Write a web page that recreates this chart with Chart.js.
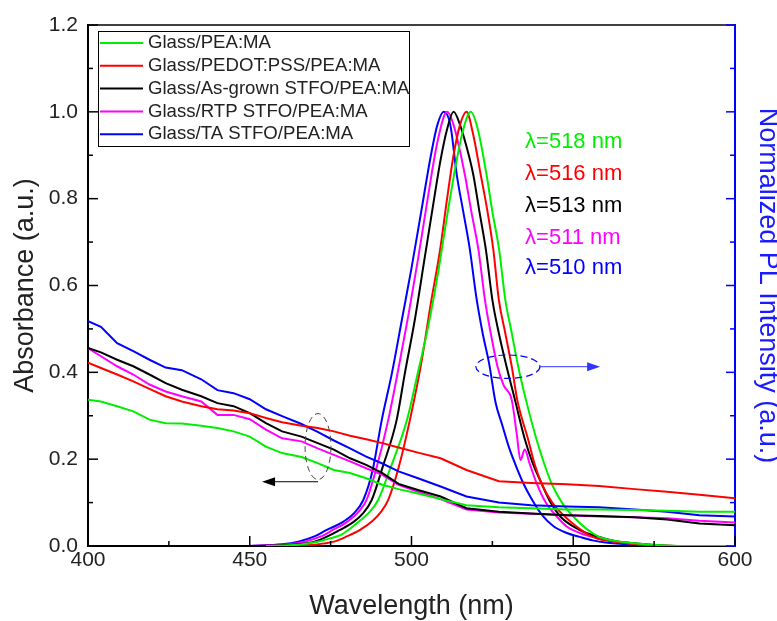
<!DOCTYPE html>
<html><head><meta charset="utf-8">
<script src="https://cdn.jsdelivr.net/npm/chart.js@4.4.0/dist/chart.umd.min.js"></script>
<style>html,body{margin:0;padding:0;background:#fff;}canvas{display:block;}</style>
</head><body>
<canvas id="c" width="777" height="621"></canvas>
<script>
// ---------------- data ----------------
const seriesLabels = ['Glass/PEA:MA','Glass/PEDOT:PSS/PEA:MA','Glass/As-grown STFO/PEA:MA','Glass/RTP STFO/PEA:MA','Glass/TA STFO/PEA:MA'];
const seriesColors = ['#00ee00','#ff0000','#000000','#ff00ff','#0000ff'];
const peakLabels = ['λ=518 nm','λ=516 nm','λ=513 nm','λ=511 nm','λ=510 nm'];

const xMajorTicks = [400,450,500,550,600];
const xMinorTicks = [425,475,525,575];
const yMajorTicks = [0,0.2,0.4,0.6,0.8,1.0,1.2];
const yMinorTicks = [0.1,0.3,0.5,0.7,0.9,1.1];

// absorbance (left axis)
const absWavelength = [400,404,409,414,419,424,429,435,440,445,450,455,460,466,471,476,481,486,491,496,502,509,517,527,537,548,558,569,579,589,600];
const absGreen   = [0.337,0.333,0.322,0.310,0.291,0.283,0.282,0.277,0.272,0.264,0.252,0.229,0.214,0.205,0.191,0.175,0.168,0.156,0.141,0.131,0.121,0.108,0.094,0.089,0.087,0.084,0.084,0.083,0.081,0.079,0.079];
const absRed     = [0.422,0.410,0.395,0.379,0.362,0.345,0.333,0.322,0.315,0.312,0.306,0.295,0.285,0.277,0.272,0.264,0.254,0.246,0.237,0.227,0.215,0.202,0.175,0.149,0.145,0.142,0.138,0.131,0.125,0.118,0.110];
const absBlack   = [0.456,0.446,0.429,0.414,0.395,0.375,0.360,0.345,0.329,0.322,0.306,0.283,0.264,0.252,0.237,0.222,0.202,0.187,0.168,0.143,0.129,0.114,0.087,0.079,0.075,0.071,0.069,0.066,0.061,0.052,0.048];
const absMagenta = [0.456,0.437,0.414,0.395,0.372,0.356,0.345,0.333,0.302,0.302,0.292,0.268,0.248,0.241,0.225,0.210,0.195,0.179,0.164,0.141,0.125,0.108,0.084,0.077,0.074,0.071,0.068,0.066,0.064,0.058,0.054];
const absBlue    = [0.518,0.505,0.467,0.449,0.429,0.411,0.405,0.384,0.359,0.352,0.338,0.315,0.299,0.281,0.263,0.243,0.225,0.206,0.190,0.172,0.156,0.137,0.114,0.100,0.094,0.091,0.089,0.084,0.079,0.071,0.068];

// normalized PL (right axis)
const plGreenWl  = [455,465,471,475,478,480.5,484,487,489.7,493,498.6,502,505,508,511,514,516,518.3,520.5,523.2,525,527.1,529,531,533,535.4,538.7,541,543.3,546.5,550,554,558,562,568,577,590,600];
const plGreenVal = [0,0.003,0.01,0.018,0.025,0.037,0.058,0.078,0.106,0.17,0.29,0.40,0.50,0.62,0.76,0.89,0.96,1.0,0.96,0.855,0.77,0.682,0.567,0.49,0.413,0.336,0.244,0.19,0.144,0.10,0.068,0.04,0.021,0.013,0.007,0.002,0,0];
const plRedWl  = [460,470,476,480,484.1,488,490.5,492.8,496,499.5,503,506,508.8,511,513,515,517,519,521.4,523.5,525.3,527,529,531,532.7,536.1,538,540.2,543.5,547.4,551,556,560,566,575,590,600];
const plRedVal = [0,0.003,0.01,0.022,0.037,0.058,0.078,0.106,0.18,0.29,0.42,0.56,0.68,0.80,0.90,0.97,1.0,0.95,0.855,0.77,0.682,0.567,0.49,0.413,0.336,0.244,0.19,0.144,0.10,0.068,0.045,0.021,0.013,0.007,0.002,0,0];
const plBlackWl  = [450,465,470,474,477.9,482,485,487.7,491,495.4,498,501,504,507,509,511,513,515,517,519.1,521,523,525,527,529.4,532,535.1,537.5,540.2,543,546,550,554,558,562,568,576,590,600];
const plBlackVal = [0,0.004,0.01,0.022,0.037,0.055,0.075,0.106,0.18,0.29,0.40,0.52,0.66,0.80,0.89,0.96,1.0,0.97,0.92,0.855,0.77,0.682,0.567,0.49,0.413,0.336,0.244,0.19,0.144,0.10,0.068,0.045,0.03,0.021,0.013,0.007,0.002,0,0];
const plMagentaWl  = [450,462,467,472,475.7,480,484,486.1,489,492.8,496,499,502,505,508,511,513,516.5,518.5,520.7,522.7,524.5,526.6,528.5,531,532.5,533.7,535,536.5,538.7,541.5,544.9,548,552,556,560,566,575,590,600];
const plMagentaVal = [0,0.004,0.01,0.022,0.037,0.055,0.082,0.106,0.175,0.29,0.41,0.53,0.66,0.80,0.93,1.0,0.97,0.855,0.77,0.682,0.567,0.49,0.413,0.37,0.336,0.26,0.198,0.222,0.19,0.144,0.10,0.068,0.045,0.03,0.021,0.013,0.007,0.002,0,0];
const plBlueWl  = [450,460,465,470,473.8,478,482,485.1,488,490.8,494,497,500,503,506,508,510,512,514,516,518,520,522,524,526,528,530,532,534.6,537,540.7,544,548,552,556,560,570,580,600];
const plBlueVal = [0,0.004,0.01,0.022,0.037,0.052,0.074,0.106,0.175,0.29,0.40,0.52,0.64,0.77,0.90,0.97,1.0,0.97,0.855,0.77,0.685,0.575,0.49,0.42,0.33,0.28,0.23,0.19,0.144,0.11,0.068,0.045,0.03,0.021,0.013,0.008,0.003,0,0];

// annotation anchors in data units
const absMarker = {x:471.1, y:0.229, rx:4.0, ry:0.076, arrowY:0.148, arrowTo:453.8};
const plMarker  = {x:529.8, y:0.413, rx:9.9, ry:0.027, arrowTo:558.3};
const peakLabelX = 535.1;
const peakLabelY = [0.930,0.857,0.783,0.710,0.641];

// ---------------- chart ----------------
const FONT = 'Liberation Sans, Arial, Helvetica, sans-serif';
Chart.defaults.font.family = FONT;
const pts = (xs, ys) => xs.map((x, i) => ({x, y: ys[i]}));
const absSets = [absGreen, absRed, absBlack, absMagenta, absBlue];
const plSets = [[plGreenWl,plGreenVal],[plRedWl,plRedVal],[plBlackWl,plBlackVal],[plMagentaWl,plMagentaVal],[plBlueWl,plBlueVal]];

const datasets = [];
absSets.forEach((vals, i) => datasets.push({
  label: seriesLabels[i], data: pts(absWavelength, vals), yAxisID: 'y',
  borderColor: seriesColors[i], borderWidth: 2, pointRadius: 0, tension: 0, fill: false
}));
plSets.forEach((s, i) => datasets.push({
  label: seriesLabels[i] + ' PL', data: pts(s[0], s[1]), yAxisID: 'y2',
  borderColor: seriesColors[i], borderWidth: 2, pointRadius: 0, cubicInterpolationMode: 'monotone', fill: false
}));

function arrow(ctx, x1, y1, x2, y2, color) {
  ctx.save();
  ctx.strokeStyle = color; ctx.fillStyle = color; ctx.lineWidth = 1;
  const dir = Math.sign(x2 - x1);
  ctx.beginPath(); ctx.moveTo(x1, y1); ctx.lineTo(x2 - dir * 10, y2); ctx.stroke();
  ctx.beginPath(); ctx.moveTo(x2, y2); ctx.lineTo(x2 - dir * 13, y2 - 4.5); ctx.lineTo(x2 - dir * 13, y2 + 4.5); ctx.closePath(); ctx.fill();
  ctx.restore();
}

const decor = {
  id: 'decor',
  afterDraw(chart) {
    const {ctx, chartArea: a, scales} = chart;
    const sx = scales.x, sy = scales.y, sy2 = scales.y2;
    ctx.save();
    // top frame line
    ctx.strokeStyle = '#000'; ctx.lineWidth = 1.5;
    ctx.beginPath(); ctx.moveTo(a.left, a.top); ctx.lineTo(a.right, a.top); ctx.stroke();
    // inward ticks
    const tick = (x1, y1, x2, y2, c) => { ctx.strokeStyle = c; ctx.lineWidth = 1.5; ctx.beginPath(); ctx.moveTo(x1, y1); ctx.lineTo(x2, y2); ctx.stroke(); };
    xMajorTicks.forEach(v => { const p = sx.getPixelForValue(v); tick(p, a.bottom, p, a.bottom - 10, '#000'); });
    xMinorTicks.forEach(v => { const p = sx.getPixelForValue(v); tick(p, a.bottom, p, a.bottom - 5, '#000'); });
    yMajorTicks.forEach(v => { const p = sy.getPixelForValue(v); tick(a.left, p, a.left + 10, p, '#000'); tick(a.right, sy2.getPixelForValue(v), a.right - 9, sy2.getPixelForValue(v), '#0000ff'); });
    yMinorTicks.forEach(v => { const p = sy.getPixelForValue(v); tick(a.left, p, a.left + 5, p, '#000'); tick(a.right, sy2.getPixelForValue(v), a.right - 5, sy2.getPixelForValue(v), '#0000ff'); });

    // legend
    const lx = a.left + 10, ly = a.top + 6, lw = 311, lh = 115, rowH = 22.8;
    ctx.fillStyle = '#fff'; ctx.fillRect(lx, ly, lw, lh);
    ctx.save();
    ctx.beginPath(); ctx.rect(lx, ly, lw, lh); ctx.clip();
    ctx.font = '18.6px ' + FONT; ctx.textBaseline = 'middle'; ctx.textAlign = 'left';
    seriesLabels.forEach((t, i) => {
      const yy = ly + 12 + i * rowH;
      ctx.strokeStyle = seriesColors[i]; ctx.lineWidth = 2;
      ctx.beginPath(); ctx.moveTo(lx + 2, yy); ctx.lineTo(lx + 45, yy); ctx.stroke();
      ctx.fillStyle = '#222'; ctx.fillText(t, lx + 50, yy);
    });
    ctx.restore();
    ctx.strokeStyle = '#000'; ctx.lineWidth = 1; ctx.strokeRect(lx + 0.5, ly + 0.5, lw, lh);

    // absorbance marker: dashed ellipse + left arrow
    ctx.setLineDash([6, 4]); ctx.lineWidth = 1; ctx.strokeStyle = '#444';
    let cx = sx.getPixelForValue(absMarker.x), cy = sy.getPixelForValue(absMarker.y);
    let rx = Math.abs(sx.getPixelForValue(absMarker.x + absMarker.rx) - cx), ry = Math.abs(sy.getPixelForValue(absMarker.y + absMarker.ry) - cy);
    ctx.beginPath(); ctx.ellipse(cx, cy, rx, ry, 0, 0, Math.PI * 2); ctx.stroke();
    ctx.setLineDash([]);
    arrow(ctx, cx, sy.getPixelForValue(absMarker.arrowY), sx.getPixelForValue(absMarker.arrowTo), sy.getPixelForValue(absMarker.arrowY), '#000');

    // PL marker: dashed ellipse + right arrow
    ctx.setLineDash([7, 4]); ctx.lineWidth = 1.2; ctx.strokeStyle = '#0000ff';
    cx = sx.getPixelForValue(plMarker.x); cy = sy2.getPixelForValue(plMarker.y);
    rx = Math.abs(sx.getPixelForValue(plMarker.x + plMarker.rx) - cx); ry = Math.abs(sy2.getPixelForValue(plMarker.y + plMarker.ry) - cy);
    ctx.beginPath(); ctx.ellipse(cx, cy, rx, ry, 0, 0, Math.PI * 2); ctx.stroke();
    ctx.setLineDash([]);
    arrow(ctx, cx + rx, cy, sx.getPixelForValue(plMarker.arrowTo), cy, '#3333ff');

    // peak labels
    ctx.font = '22px ' + FONT; ctx.textAlign = 'left'; ctx.textBaseline = 'middle';
    peakLabels.forEach((t, i) => {
      ctx.fillStyle = seriesColors[i];
      ctx.fillText(t, sx.getPixelForValue(peakLabelX), sy2.getPixelForValue(peakLabelY[i]));
    });
    ctx.restore();
  }
};

new Chart(document.getElementById('c'), {
  type: 'line',
  data: {datasets},
  options: {
    responsive: false, animation: false, devicePixelRatio: 1,
    layout: {padding: {top: 25, left: 0, right: 0, bottom: 0}},
    plugins: {legend: {display: false}, tooltip: {enabled: false}},
    scales: {
      x: {
        type: 'linear', min: 400, max: 600,
        afterBuildTicks: s => { s.ticks = xMajorTicks.map(v => ({value: v})); },
        ticks: {color: '#222', font: {size: 21}, padding: 2, maxRotation: 0},
        grid: {display: false, drawTicks: false},
        border: {display: true, color: '#000', width: 2},
        title: {display: true, text: 'Wavelength (nm)', color: '#222', font: {size: 27, lineHeight: 1.0}, padding: {top: 0, bottom: 0.5}},
        afterFit: s => { s.height = 75; }
      },
      y: {
        type: 'linear', position: 'left', min: 0, max: 1.2,
        afterBuildTicks: s => { s.ticks = yMajorTicks.map(v => ({value: v})); },
        ticks: {color: '#222', font: {size: 21}, padding: 10, callback: v => v.toFixed(1)},
        grid: {display: false, drawTicks: false},
        border: {display: true, color: '#000', width: 2},
        title: {display: true, text: 'Absorbance (a.u.)', color: '#222', font: {size: 27}, padding: {top: 9, bottom: 0}},
        afterFit: s => { s.width = 88; }
      },
      y2: {
        type: 'linear', position: 'right', min: 0, max: 1.2,
        ticks: {display: false},
        grid: {display: false, drawTicks: false},
        border: {display: true, color: '#0000ff', width: 2},
        title: {display: true, text: 'Normalized PL Intensity (a.u.)', color: '#1a1aff', font: {size: 27, lineHeight: 0.7}, padding: {top: 0, bottom: 0}},
        afterFit: s => { s.width = 42; }
      }
    }
  },
  plugins: [decor]
});
</script>
</body></html>
